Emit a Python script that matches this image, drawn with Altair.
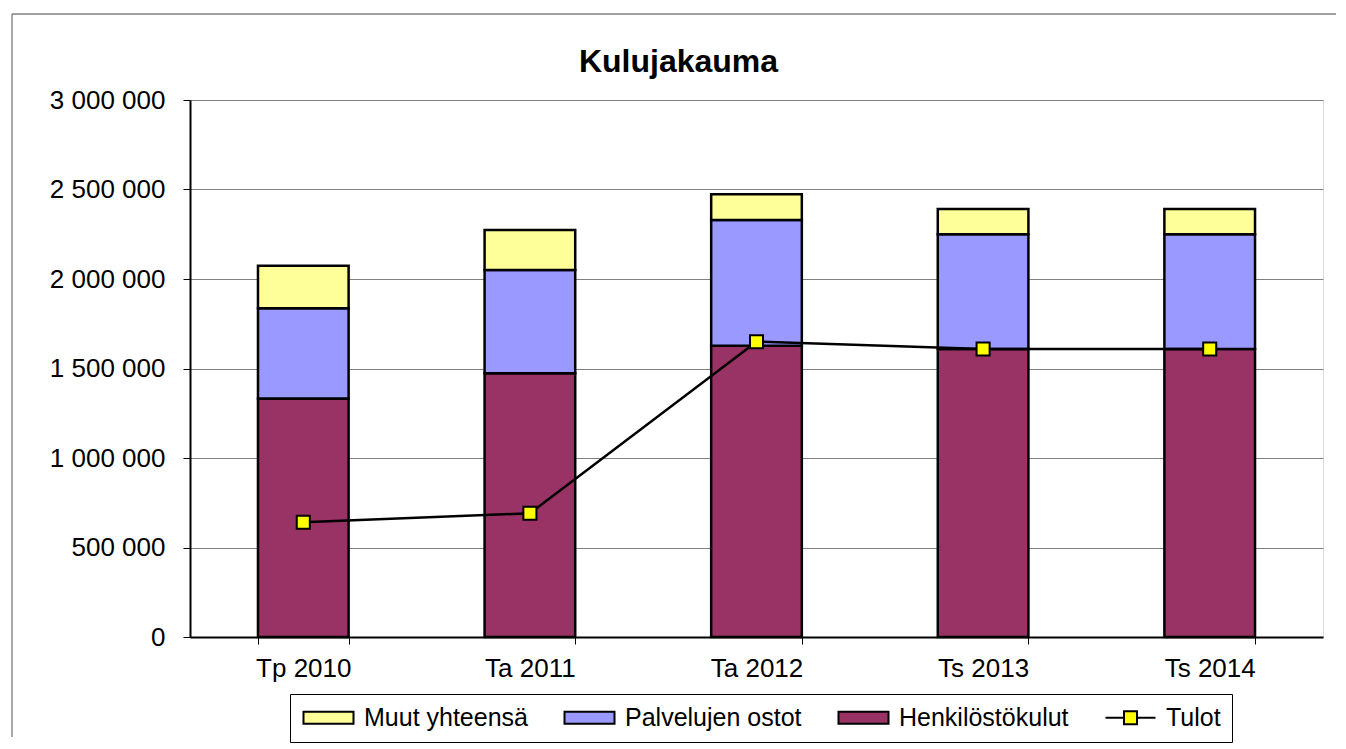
import altair as alt
import pandas as pd

# ---- data ----
categories = ["Tp 2010", "Ta 2011", "Ta 2012", "Ts 2013", "Ts 2014"]
henkilostokulut = [1333000, 1473000, 1627000, 1609000, 1609000]
palvelujen_ostot = [503000, 577000, 703000, 641000, 641000]
muut_yhteensa = [238000, 224000, 143000, 141000, 141000]
tulot = [641000, 691000, 1650000, 1609000, 1609000]

series_names = ["Muut yhteensä", "Palvelujen ostot", "Henkilöstökulut", "Tulot"]
series_colors = ["#FFFF99", "#9999FF", "#993366", "#FFFF00"]
y_ticks = [0, 500000, 1000000, 1500000, 2000000, 2500000, 3000000]
chart_title = "Kulujakauma"

FONT = "Liberation Sans, Arial, sans-serif"

rows = []
for i, c in enumerate(categories):
    rows.append({"cat": c, "series": "Henkilöstökulut", "ord": 0, "value": henkilostokulut[i]})
    rows.append({"cat": c, "series": "Palvelujen ostot", "ord": 1, "value": palvelujen_ostot[i]})
    rows.append({"cat": c, "series": "Muut yhteensä", "ord": 2, "value": muut_yhteensa[i]})
bars_df = pd.DataFrame(rows)
line_df = pd.DataFrame({"cat": categories, "series": ["Tulot"] * len(categories), "value": tulot})

rect_path = "M-1,-0.6H4V0.6H-1Z"
line_path = "M-1,0H0.85M2.15,0H4M0.85,-0.65H2.15V0.65H0.85Z"
shape_expr = "datum.value === 'Tulot' ? '" + line_path + "' : '" + rect_path + "'"

x_enc = alt.X(
    "cat:N",
    sort=categories,
    scale=alt.Scale(paddingInner=0.6, paddingOuter=0.3),
    axis=alt.Axis(
        title=None, labelAngle=0, tickBand="extent", tickSize=7, tickColor="black",
        domainColor="black", domainWidth=2, labelFontSize=26, labelFont=FONT,
        labelColor="black", labelPadding=11,
    ),
)
y_scale = alt.Scale(domain=[0, 3000000], nice=False)
y_axis = alt.Axis(
    title=None, values=y_ticks,
    labelExpr="replace(replace(format(datum.value, ','), ',', ' '), ',', ' ')",
    grid=True, gridColor="#808080", gridWidth=1,
    domainColor="black", domainWidth=2, tickColor="black", tickSize=7,
    labelFontSize=26, labelFont=FONT, labelColor="black", labelPadding=18,
)

fill_enc = alt.Fill(
    "series:N",
    scale=alt.Scale(domain=series_names, range=series_colors),
    legend=alt.Legend(
        title=None, orient="none", legendX=100, legendY=594, direction="horizontal",
        labelFontSize=25, labelFont=FONT, labelColor="black", labelLimit=400,
        symbolType=alt.ExprRef(shape_expr), symbolSize=400, symbolStrokeColor="black",
        symbolStrokeWidth=2, labelOffset=38, columnPadding=32, padding=11,
        strokeColor="black", fillColor="white",
    ),
)

bars = alt.Chart(bars_df).mark_bar(stroke="black", strokeWidth=2.5).encode(
    x=x_enc,
    y=alt.Y("value:Q", stack="zero", scale=y_scale, axis=y_axis),
    fill=fill_enc,
    order=alt.Order("ord:Q", sort="ascending"),
)

line = alt.Chart(line_df).mark_line(color="black", strokeWidth=2.5).encode(
    x=alt.X("cat:N", sort=categories),
    y=alt.Y("value:Q"),
)

points = alt.Chart(line_df).mark_point(
    shape="square", filled=True, size=170, stroke="black", strokeWidth=2, opacity=1
).encode(
    x=alt.X("cat:N", sort=categories),
    y=alt.Y("value:Q"),
    fill=alt.Fill("series:N"),
)

one = pd.DataFrame({"k": [0]})
frame_top = alt.Chart(one).mark_rule(color="#A0A0A0", strokeWidth=2).encode(
    x=alt.value(-178), x2=alt.value(1146), y=alt.value(-86)
)
frame_left = alt.Chart(one).mark_rule(color="#555555", strokeWidth=1).encode(
    x=alt.value(-178), y=alt.value(-86), y2=alt.value(637)
)

chart = alt.layer(frame_top, frame_left, bars, line, points).properties(
    width=1133,
    height=537,
    title=alt.TitleParams(
        chart_title, fontSize=32, fontWeight="bold", font=FONT, color="black",
        anchor="middle", dx=-78, offset=-66,
    ),
    padding={"left": 3, "top": 5, "right": 0, "bottom": 0},
).configure_view(stroke="black", strokeWidth=2).configure(background="white")

chart.save("out.html", embed_options={"renderer": "svg", "actions": False})
